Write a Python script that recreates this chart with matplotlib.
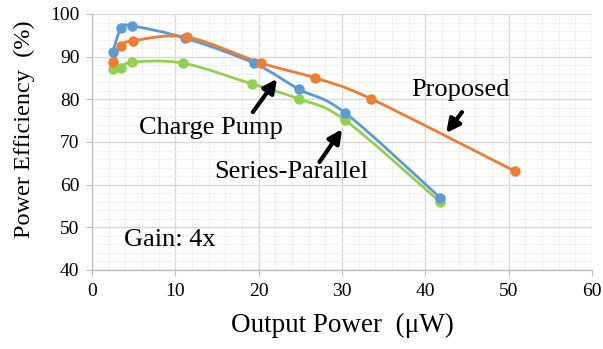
"""
Power efficiency vs output power, gain 4x.
Excel-style smoothed line chart redrawn with matplotlib.
"""

import numpy as np
import matplotlib
matplotlib.use("Agg")
import matplotlib.pyplot as plt
from matplotlib.path import Path
from matplotlib.patches import PathPatch

# data
cp_x = [2.5, 3.5, 4.8, 11.1, 19.4, 24.8, 30.4, 41.8]
cp_y = [91.1, 96.7, 97.2, 94.4, 88.5, 82.4, 76.8, 56.9]

prop_x = [2.5, 3.5, 4.9, 11.4, 20.3, 26.8, 33.5, 50.7]
prop_y = [88.7, 92.5, 93.7, 94.6, 88.5, 85.0, 80.1, 63.2]

sp_x = [2.5, 3.5, 4.8, 10.9, 19.2, 24.8, 30.3, 41.8]
sp_y = [87.1, 87.3, 88.7, 88.5, 83.6, 80.1, 75.2, 55.9]

x_ticks = [0, 10, 20, 30, 40, 50, 60]
y_ticks = [40, 50, 60, 70, 80, 90, 100]

BLUE = "#5B9BD5"
ORANGE = "#ED7D31"
GREEN = "#92D050"
SERIF = ["Liberation Serif", "DejaVu Serif"]

plt.rcParams["font.family"] = SERIF


def smooth_path(ax, xs, ys):
    """Excel-like smoothed line: cubic Bezier with Catmull-Rom control points
    computed in display space, mapped back to data coords."""
    pts = ax.transData.transform(np.column_stack([xs, ys]))
    n = len(pts)
    verts = [pts[0]]
    codes = [Path.MOVETO]
    for i in range(n - 1):
        p0 = pts[max(i - 1, 0)]
        p1 = pts[i]
        p2 = pts[i + 1]
        p3 = pts[min(i + 2, n - 1)]
        c1 = p1 + (p2 - p0) / 6.0
        c2 = p2 - (p3 - p1) / 6.0
        verts += [c1, c2, p2]
        codes += [Path.CURVE4] * 3
    verts = ax.transData.inverted().transform(np.array(verts))
    return Path(verts, codes)


fig = plt.figure(figsize=(6.03, 3.49), dpi=100)
W, H = 603, 349
ax = fig.add_axes([92 / W, 1 - 270 / H, 500 / W, 256 / H])
ax.set_xlim(0, 60)
ax.set_ylim(40, 100)

ax.set_xticks(x_ticks)
ax.set_yticks(y_ticks)
ax.set_xticks(np.arange(0, 61, 2), minor=True)
ax.set_yticks(np.arange(40, 101, 2), minor=True)
ax.grid(True, which="major", color="#d9d9d9", lw=1.0)
ax.grid(True, which="minor", color="#f0f0f0", lw=0.8)
ax.set_axisbelow(True)

for side in ["top", "right"]:
    ax.spines[side].set_visible(False)
for side in ["left", "bottom"]:
    ax.spines[side].set_color("#bfbfbf")
    ax.spines[side].set_linewidth(1.0)
ax.tick_params(which="major", direction="out", length=4, color="#bfbfbf",
               labelsize=14, pad=5)
ax.tick_params(which="minor", length=0)

for xs, ys, col in [(sp_x, sp_y, GREEN), (cp_x, cp_y, BLUE), (prop_x, prop_y, ORANGE)]:
    ax.add_patch(PathPatch(smooth_path(ax, xs, ys), fill=False, ec=col, lw=2.0,
                           capstyle="round", joinstyle="round", zorder=3))
    ax.plot(xs, ys, "o", color=col, ms=6.5, zorder=4, clip_on=False)

ax.set_xlabel("Output Power  (\u03bcW)", fontsize=19.5)
ax.xaxis.set_label_coords(0.5, -0.168)
ax.set_ylabel("Power Efficiency  (%)", fontsize=17.5)
ax.yaxis.set_label_coords(-0.114, 0.55)

arrow = dict(arrowstyle="-|>", color="black", lw=3.0, mutation_scale=20,
             shrinkA=0, shrinkB=0)
ax.annotate("", xy=(22.2, 84.8), xytext=(19.3, 77.0), arrowprops=arrow)
ax.annotate("", xy=(30.0, 73.0), xytext=(27.3, 65.3), arrowprops=arrow)
ax.annotate("", xy=(42.5, 72.1), xytext=(44.4, 77.0), arrowprops=arrow)

ax.text(14.3, 73.3, "Charge Pump", fontsize=19, ha="center", va="center")
ax.text(23.9, 63.0, "Series-Parallel", fontsize=19, ha="center", va="center")
ax.text(44.2, 82.2, "Proposed", fontsize=19, ha="center", va="center")
ax.text(3.9, 47.0, "Gain: 4x", fontsize=19, ha="left", va="center")

fig.savefig("out.png", dpi=100)
